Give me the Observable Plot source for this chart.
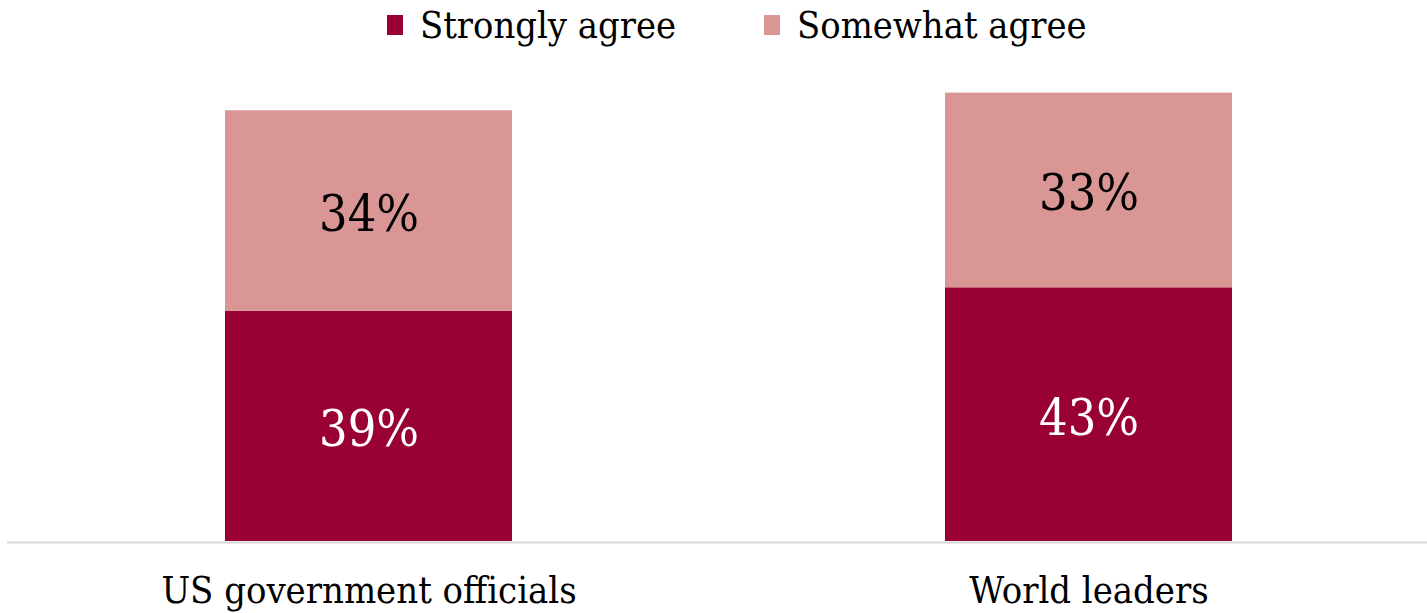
<!DOCTYPE html>
<html>
<head>
<meta charset="utf-8">
<script src="https://cdn.jsdelivr.net/npm/d3@7"></script>
<script src="https://cdn.jsdelivr.net/npm/@observablehq/plot@0.6"></script>
<style>
  html, body { margin: 0; padding: 0; background: #fff; }
  body { width: 1427px; height: 613px; overflow: hidden; font-family: "DejaVu Serif", serif; font-stretch: condensed; }
  #legend { height: 55px; position: relative; }
  .item { position: absolute; top: 0; height: 50px; display: flex; align-items: center; font-size: 37.7px; color: #000; white-space: nowrap; }
  .sw { width: 16px; height: 20px; margin-right: 17px; }
  svg { display: block; }
  svg text { font-stretch: condensed; }
</style>
</head>
<body>
<div id="legend"></div>
<div id="chart"></div>
<script>
const categories = ["US government officials", "World leaders"];
const seriesNames = ["Strongly agree", "Somewhat agree"];
const stronglyAgree = [39, 43];
const somewhatAgree = [34, 33];
const seriesColors = ["#990033", "#d99694"];
const labelColors = ["#ffffff", "#000000"];

const data = [];
categories.forEach((c, i) => {
  data.push({group: c, series: seriesNames[0], value: stronglyAgree[i]});
  data.push({group: c, series: seriesNames[1], value: somewhatAgree[i]});
});

// legend
const legend = document.getElementById("legend");
const legendLeft = [387, 764];
seriesNames.forEach((s, i) => {
  const it = document.createElement("div");
  it.className = "item";
  it.style.left = legendLeft[i] + "px";
  const sw = document.createElement("span");
  sw.className = "sw";
  sw.style.background = seriesColors[i];
  it.appendChild(sw);
  it.appendChild(document.createTextNode(s));
  legend.appendChild(it);
});

const chart = Plot.plot({
  width: 1427,
  height: 558,
  marginLeft: 7,
  marginRight: 0,
  marginTop: 14,
  marginBottom: 72,
  style: {fontFamily: "DejaVu Serif, serif", background: "#fff"},
  x: {domain: categories, paddingInner: 0.6014, paddingOuter: 0.2868, align: 0.528, label: null},
  y: {domain: [0, 80], axis: null},
  color: {domain: seriesNames, range: seriesColors},
  marks: [
    Plot.ruleY([0], {stroke: "#d9d9d9", strokeWidth: 2, dy: 1}),
    Plot.barY(data, {x: "group", y: "value", fill: "series", z: "series", order: seriesNames}),
    Plot.text(data, Plot.stackY({x: "group", y: "value", z: "series", order: seriesNames,
      text: d => d.series === seriesNames[0] ? d.value + "%" : null,
      fill: labelColors[0], fontSize: 50, dy: 4})),
    Plot.text(data, Plot.stackY({x: "group", y: "value", z: "series", order: seriesNames,
      text: d => d.series === seriesNames[1] ? d.value + "%" : null,
      fill: labelColors[1], fontSize: 50, dy: 4})),
    Plot.axisX({tickSize: 0, tickPadding: 35, fontSize: 37.8, color: "#000", label: null})
  ]
});
document.getElementById("chart").appendChild(chart);
</script>
</body>
</html>
